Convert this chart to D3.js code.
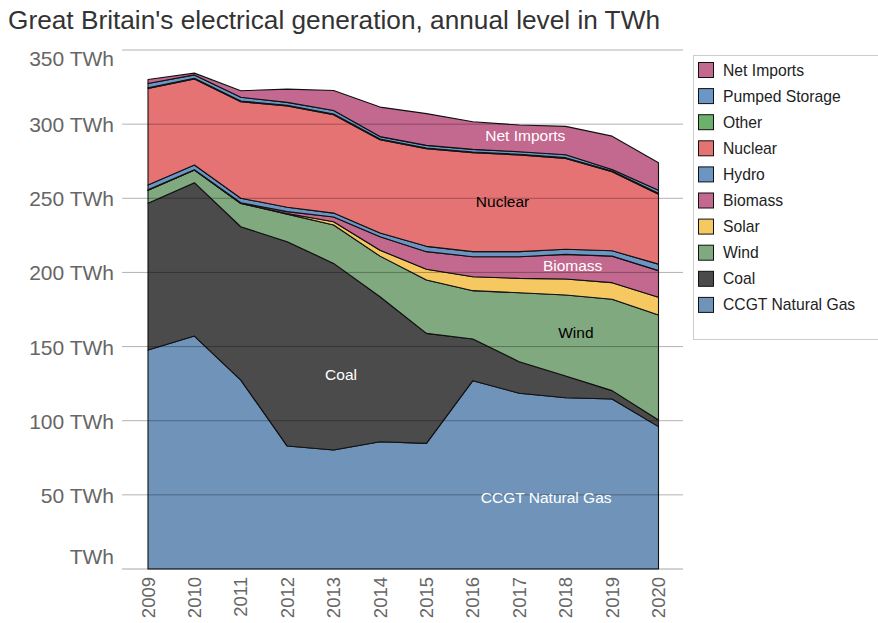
<!DOCTYPE html>
<html>
<head>
<meta charset="utf-8">
<script src="https://cdn.jsdelivr.net/npm/d3@7"></script>
<style>
  body { margin: 0; background: #fff; font-family: "Liberation Sans", Arial, Helvetica, sans-serif; }
  svg text { font-family: "Liberation Sans", Arial, Helvetica, sans-serif; }
</style>
</head>
<body>
<svg id="viz_area" width="878" height="623"></svg>
<script>
// years on x axis
var years = [2009, 2010, 2011, 2012, 2013, 2014, 2015, 2016, 2017, 2018, 2019, 2020]

// annual generation, TWh
var gas     = [147.7, 157.1, 127.4, 82.9, 80.2, 85.8, 84.7, 127.0, 118.5, 115.5, 114.6, 96.0]
var coal    = [98.9, 103.4, 103.4, 137.8, 125.9, 97.8, 74.2, 28.1, 21.3, 14.6, 5.7, 4.5]
var wind    = [8.8, 8.5, 15.7, 18.6, 25.9, 27.4, 36.0, 32.6, 46.5, 54.7, 61.6, 70.8]
var solar   = [0, 0, 0.1, 0.4, 2.2, 4.0, 7.2, 9.4, 9.7, 10.8, 11.2, 11.9]
var biomass = [0.3, 0.3, 0.4, 1.3, 3.2, 9.0, 11.9, 13.5, 14.6, 16.6, 17.9, 18.0]
var hydro   = [3.2, 3.1, 3.0, 3.0, 2.6, 2.6, 3.6, 3.4, 3.4, 3.4, 3.6, 4.4]
var nuclear = [65.2, 58.0, 65.1, 68.2, 66.3, 62.9, 65.8, 66.7, 65.2, 61.3, 53.3, 47.2]
var other   = [0.5, 0.5, 0.5, 0.5, 0.5, 0.5, 0.5, 0.5, 0.5, 0.5, 0.5, 0.6]
var pumped  = [2.8, 2.3, 2.5, 2.0, 2.4, 1.6, 1.8, 1.8, 1.7, 2.0, 1.0, 2.0]
var imports = [2.7, 1.2, 4.4, 8.9, 13.5, 19.9, 21.4, 18.6, 18.0, 19.1, 22.5, 18.6]

var seriesNames = ["CCGT Natural Gas", "Coal", "Wind", "Solar", "Biomass", "Hydro", "Nuclear", "Other", "Pumped Storage", "Net Imports"]
var seriesValues = [gas, coal, wind, solar, biomass, hydro, nuclear, other, pumped, imports]
var seriesColors = ["#6f93b9", "#4b4b4b", "#80a97f", "#f6c862", "#c3688e", "#6b96c4", "#e67374", "#6cb16b", "#6b97c8", "#c3688e"]

var yTicks = [0, 50, 100, 150, 200, 250, 300, 350]

// in-chart labels: [text, year, value, colour]
var areaLabels = [
  ["Net Imports", 2017.13, 292.6, "#fff"],
  ["Nuclear", 2016.64, 247.5, "#000"],
  ["Biomass", 2018.15, 205, "#fff"],
  ["Wind", 2018.22, 159.6, "#000"],
  ["Coal", 2013.16, 131.5, "#fff"],
  ["CCGT Natural Gas", 2017.58, 48.5, "#fff"]
]

var svg = d3.select("#viz_area")
var x = d3.scaleLinear().domain([2009, 2020]).range([148, 658.5])
var y = d3.scaleLinear().domain([0, 350]).range([569, 50])

// title
svg.append("text").attr("x", 8).attr("y", 29)
  .attr("textLength", 652).attr("lengthAdjust", "spacingAndGlyphs")
  .style("font-size", "26px").style("fill", "#333")
  .text("Great Britain's electrical generation, annual level in TWh")

// stack the data
var table = years.map(function (yr, i) {
  var row = { year: yr }
  seriesNames.forEach(function (n, k) { row[n] = seriesValues[k][i] })
  return row
})
var stacked = d3.stack().keys(seriesNames)(table)

var area = d3.area()
  .x(function (d) { return x(d.data.year) })
  .y0(function (d) { return y(d[0]) })
  .y1(function (d) { return y(d[1]) })

svg.append("g").selectAll("path")
  .data(stacked)
  .enter().append("path")
  .attr("d", area)
  .style("fill", function (d, i) { return seriesColors[i] })
  .style("stroke", "#111")
  .style("stroke-width", 1.1)
  .style("stroke-linejoin", "round")

// grid lines over the areas
var grid = svg.append("g")
grid.selectAll("line").data(yTicks).enter().append("line")
  .attr("x1", 122).attr("x2", 683)
  .attr("y1", function (d) { return y(d) }).attr("y2", function (d) { return y(d) })
  .style("stroke", "#000").style("stroke-opacity", function (d) { return d == 0 ? 0.35 : 0.3 })
  .style("stroke-width", 1)

// y labels
svg.append("g").selectAll("text").data(yTicks).enter().append("text")
  .attr("x", 114)
  .attr("y", function (d) {
    if (d == 350) return y(d) + 16
    if (d == 0) return y(d) - 5
    return y(d) + 8
  })
  .attr("text-anchor", "end")
  .style("font-size", "21px").style("fill", "#666")
  .text(function (d) { return (d == 0 ? "" : d + " ") + "TWh" })

// x labels, rotated
svg.append("g").selectAll("text").data(years).enter().append("text")
  .attr("transform", function (d) { return "translate(" + (x(d) + 6.5) + ",577) rotate(-90)" })
  .attr("text-anchor", "end")
  .style("font-size", "18.5px").style("fill", "#666")
  .text(function (d) { return d })

// labels inside the areas
svg.append("g").selectAll("text").data(areaLabels).enter().append("text")
  .attr("x", function (d) { return x(d[1]) })
  .attr("y", function (d) { return y(d[2]) + 5.5 })
  .attr("text-anchor", "middle")
  .style("font-size", "15.5px")
  .style("fill", function (d) { return d[3] })
  .text(function (d) { return d[0] })

// legend, top item is the last series
var legend = svg.append("g")
legend.append("rect").attr("x", 693.5).attr("y", 55.5).attr("width", 200).attr("height", 284)
  .style("fill", "#fff").style("stroke", "#ccc")
var legendOrder = seriesNames.slice().reverse()
var items = legend.selectAll("g.item").data(legendOrder).enter().append("g")
  .attr("transform", function (d, i) { return "translate(0," + (70 + i * 26.1) + ")" })
items.append("rect").attr("x", 698.5).attr("y", -7.5).attr("width", 15).attr("height", 15)
  .style("fill", function (d) { return seriesColors[seriesNames.indexOf(d)] })
  .style("stroke", "#111")
items.append("text").attr("x", 723).attr("y", 5.5)
  .style("font-size", "15.7px").style("fill", "#222")
  .text(function (d) { return d })
</script>
</body>
</html>
